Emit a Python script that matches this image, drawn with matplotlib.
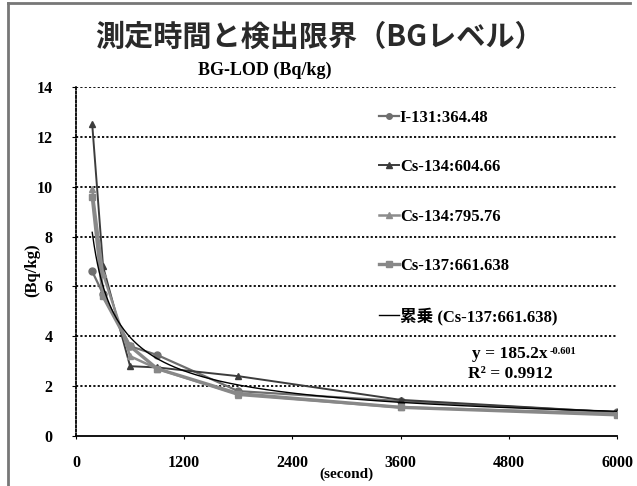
import matplotlib
matplotlib.use("Agg")
import matplotlib.pyplot as plt
import numpy as np

# ---- data ----
seconds = [180, 300, 600, 900, 1800, 3600, 6000]
i131 = [6.6, 5.7, 3.6, 3.25, 1.8, 1.4, 0.95]
cs134_604 = [12.5, 6.8, 2.8, 2.75, 2.4, 1.45, 0.95]
cs134_795 = [9.9, 6.5, 3.2, 2.7, 1.65, 1.15, 0.9]
cs137 = [9.6, 5.6, 3.6, 2.7, 1.7, 1.15, 0.85]
fit_a, fit_b = 185.2, -0.601
r2 = 0.9912
labels = ["I-131:364.48", "Cs-134:604.66", "Cs-134:795.76", "Cs-137:661.638",
          "累乗 (Cs-137:661.638)"]
xticks = [0, 1200, 2400, 3600, 4800, 6000]
yticks = [0, 2, 4, 6, 8, 10, 12, 14]

SERIF = ["Liberation Serif", "Noto Sans CJK JP"]

fig = plt.figure(figsize=(6.37, 4.86), dpi=100)
fig.patch.set_facecolor("white")

# scanned frame lines (top and left)
fig.add_artist(plt.Line2D([8/637, 630/637], [1-3/486, 1-3/486], transform=fig.transFigure,
                          color="#777777", lw=2))
fig.add_artist(plt.Line2D([8/637, 8/637], [0, 1-3/486], transform=fig.transFigure,
                          color="#777777", lw=2))

ax = fig.add_axes([76/637, 50/486, 541/637, 349/486])
ax.set_xlim(0, 6000)
ax.set_ylim(0, 14)

ax.plot(seconds, i131, color="#6e6e6e", marker="o", ms=5, lw=1.6, label=labels[0], zorder=3)
ax.plot(seconds, cs134_604, color="#3c3c3c", marker="^", ms=5, lw=1.4, label=labels[1], zorder=3)
ax.plot(seconds, cs134_795, color="#8c8c8c", marker="^", ms=5, lw=1.8, label=labels[2], zorder=3)
ax.plot(seconds, cs137, color="#888888", marker="s", ms=5, lw=2.4, label=labels[3], zorder=3)
xf = np.linspace(seconds[0], seconds[-1], 300)
ax.plot(xf, fit_a * xf ** fit_b, color="black", lw=1.0, label=labels[4], zorder=4)

for y in yticks[1:]:
    ax.axhline(y, color="black", lw=1.3, ls=(0, (1.2, 1.2)), zorder=1)

for s in ["top", "right"]:
    ax.spines[s].set_visible(False)
ax.spines["left"].set_linestyle((0, (1.2, 1.2)))
ax.spines["left"].set_linewidth(1.3)
ax.spines["bottom"].set_linewidth(1.3)

ax.set_xticks(xticks)
ax.set_yticks(yticks)
ax.tick_params(axis="x", length=2, pad=12)
ax.tick_params(axis="y", length=3, pad=14)
for lab in ax.get_xticklabels() + ax.get_yticklabels():
    lab.set_fontfamily(SERIF)
    lab.set_fontweight("bold")
    lab.set_fontsize(11.5)

ax.set_xlabel("(second)", fontfamily=SERIF, fontweight="bold", fontsize=11, labelpad=-3)
fig.text(32/637, 1-270/486, "(Bq/kg)", rotation=90, ha="center", va="center",
         fontfamily=SERIF, fontweight="bold", fontsize=12)

fig.text(320/637, 1-37/486, "測定時間と検出限界（BGレベル）", ha="center", va="center",
         fontfamily=["Noto Sans CJK JP"], fontweight="bold", fontsize=21, color="#2a2a2a")
fig.text(265/637, 1-70/486, "BG-LOD (Bq/kg)", ha="center", va="center",
         fontfamily=SERIF, fontweight="bold", fontsize=13)

leg = ax.legend(loc="upper left", bbox_to_anchor=(379/637, 1-110/486),
                bbox_transform=fig.transFigure, frameon=False,
                prop={"family": SERIF, "weight": "bold", "size": 12},
                handlelength=1.2, handletextpad=0.05, labelspacing=2.0,
                borderpad=0, borderaxespad=0, markerscale=0.8)

t1 = ax.text(548/637, 1-354/486, "y = 185.2x", transform=fig.transFigure, ha="right",
             va="center", fontfamily=SERIF, fontweight="bold", fontsize=12.5)
ax.annotate("-0.601", xy=(1, 1), xycoords=t1, xytext=(1, -1), textcoords="offset points",
            ha="left", va="top", fontfamily=SERIF, fontweight="bold", fontsize=7.5)
ax.text(510/637, 1-374/486, f"R² = {r2:.4f}", transform=fig.transFigure, ha="center",
        va="center", fontfamily=SERIF, fontweight="bold", fontsize=12.5)

fig.savefig("out.png", dpi=100)
